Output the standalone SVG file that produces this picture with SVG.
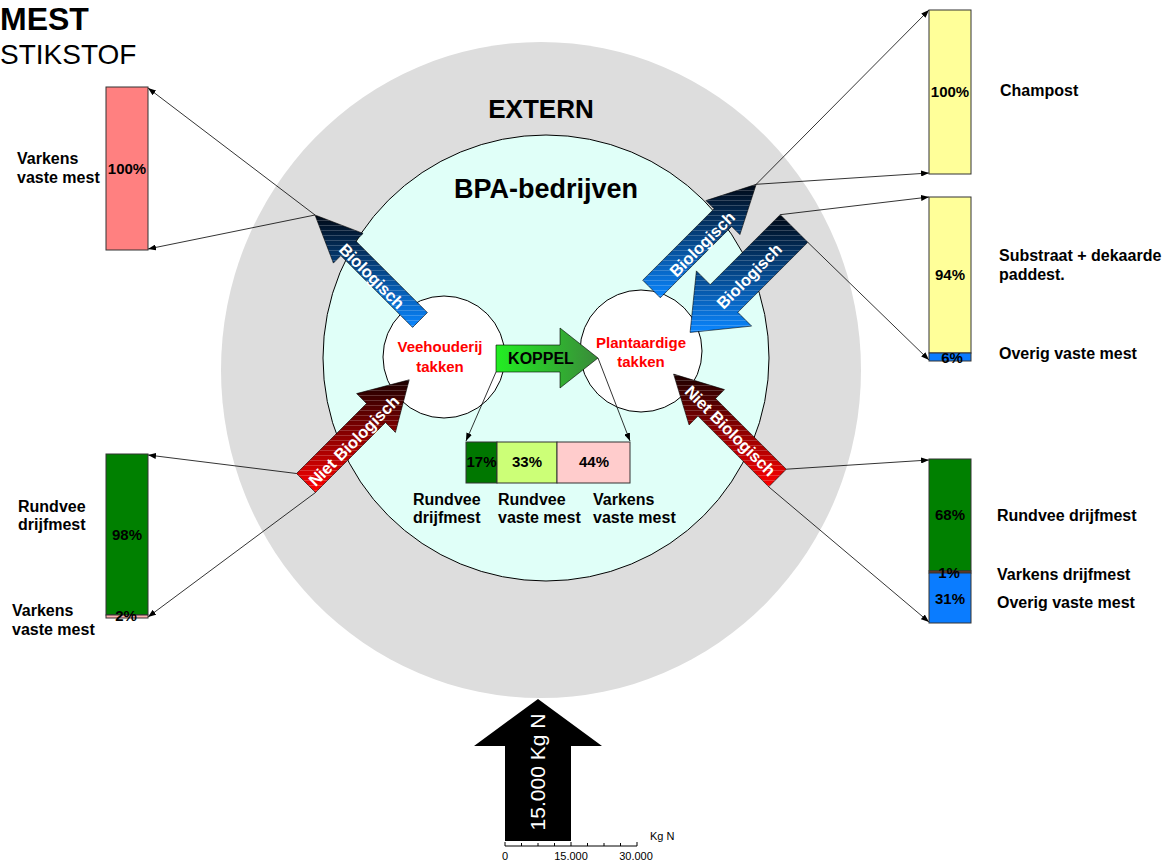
<svg xmlns="http://www.w3.org/2000/svg" width="1173" height="865" viewBox="0 0 1173 865">
<defs>
<style>
text{font-family:"Liberation Sans",Arial,sans-serif;}
.b{font-weight:bold;fill:#000;}
.lbl{font-weight:bold;font-size:16px;fill:#000;}
.pct{font-weight:bold;font-size:15px;fill:#000;text-anchor:middle;}
.red{font-weight:bold;font-size:15px;fill:#ff0000;text-anchor:middle;}
.aw{font-weight:bold;font-size:16.5px;fill:#fff;text-anchor:middle;}
.bar{stroke:#333;stroke-width:1;}
.con{stroke:#000;stroke-width:0.8;fill:none;marker-end:url(#ah);}
.arr{stroke:#000;stroke-width:0.6;}
.ax{font-size:11px;fill:#000;text-anchor:middle;}
</style>
<marker id="ah" markerWidth="8" markerHeight="6" refX="8" refY="3" orient="auto" markerUnits="userSpaceOnUse"><path d="M0,0 L8,3 L0,6 Z" fill="#000"/></marker>
<linearGradient id="gBlue" x1="0" y1="0" x2="0" y2="1"><stop offset="0" stop-color="#000814"/><stop offset="1" stop-color="#0a86ff"/></linearGradient>
<linearGradient id="gRed" x1="0" y1="0" x2="0" y2="1"><stop offset="0" stop-color="#1a0000"/><stop offset="1" stop-color="#ff0000"/></linearGradient>
<linearGradient id="gGreen" x1="0" y1="0" x2="1" y2="0"><stop offset="0" stop-color="#22ee22"/><stop offset="1" stop-color="#3a8a3a"/></linearGradient>
<pattern id="stripes" width="6" height="5" patternUnits="userSpaceOnUse"><rect x="0" y="0" width="6" height="0.7" fill="#fff" opacity="0.28"/></pattern>
</defs>

<rect width="1173" height="865" fill="#fff"/>

<g id="title">
<text class="b" x="0" y="29.5" font-size="32">MEST</text>
<text x="0" y="64" font-size="28" fill="#000">STIKSTOF</text>
</g>

<g id="extern">
<ellipse cx="541" cy="370" rx="320" ry="328" fill="#dddddd"/>
<text class="b" x="541" y="118" font-size="26" text-anchor="middle">EXTERN</text>
</g>

<g id="bpa">
<circle cx="546" cy="358" r="223" fill="#e0fff8" stroke="#000" stroke-width="1"/>
<text class="b" x="546" y="198" font-size="27" text-anchor="middle">BPA-bedrijven</text>
</g>

<g id="veehouderij">
<circle cx="444" cy="357" r="61" fill="#fff" stroke="#000" stroke-width="1"/>
<text class="red" x="440" y="352">Veehouderij</text>
<text class="red" x="440" y="372">takken</text>
</g>

<g id="plantaardig">
<circle cx="641" cy="351" r="61" fill="#fff" stroke="#000" stroke-width="1"/>
<text class="red" x="641" y="348">Plantaardige</text>
<text class="red" x="641" y="367">takken</text>
</g>

<g id="koppel">
<path class="arr" d="M496,345 L560,345 L560,328 L598,358 L560,388 L560,372 L496,372 Z" fill="url(#gGreen)"/>
<text class="b" x="541" y="364" font-size="16" text-anchor="middle">KOPPEL</text>
</g>

<g id="bio-links">
<path class="arr" d="M427.4,312.6 L355.6,240.8 L363.1,233.4 L315,215 L333.4,263.1 L340.8,255.6 L412.6,327.4 Z" fill="url(#gBlue)"/>
<path d="M427.4,312.6 L355.6,240.8 L363.1,233.4 L315,215 L333.4,263.1 L340.8,255.6 L412.6,327.4 Z" fill="url(#stripes)"/>
<text class="aw" transform="translate(372,276) rotate(45)" y="6">Biologisch</text>
</g>

<g id="nietbio-links">
<path class="arr" d="M315.5,492.5 L385.5,422.5 L395.4,432.4 L409.2,379.8 L356.6,393.6 L366.5,403.5 L296.5,473.5 Z" fill="url(#gRed)"/>
<path d="M315.5,492.5 L385.5,422.5 L395.4,432.4 L409.2,379.8 L356.6,393.6 L366.5,403.5 L296.5,473.5 Z" fill="url(#stripes)"/>
<text class="aw" font-size="15.5" transform="translate(354,441) rotate(-45)" y="5.5">Niet Biologisch</text>
</g>

<g id="bio-rechts-uit">
<path class="arr" d="M660.3,297.8 L731.7,226.4 L739.9,234.6 L756.2,184.3 L705.9,200.6 L714.1,208.8 L642.7,280.2 Z" fill="url(#gBlue)"/>
<path d="M660.3,297.8 L731.7,226.4 L739.9,234.6 L756.2,184.3 L705.9,200.6 L714.1,208.8 L642.7,280.2 Z" fill="url(#stripes)"/>
<text class="aw" transform="translate(702,244) rotate(-45)" y="6">Biologisch</text>
</g>

<g id="bio-rechts-in">
<path class="arr" d="M780.2,214.7 L710.2,284.7 L696.4,270.9 L690.1,332.4 L751.6,326.1 L737.8,312.3 L807.8,242.3 Z" fill="url(#gBlue)"/>
<path d="M780.2,214.7 L710.2,284.7 L696.4,270.9 L690.1,332.4 L751.6,326.1 L737.8,312.3 L807.8,242.3 Z" fill="url(#stripes)"/>
<text class="aw" font-size="17" transform="translate(749,276) rotate(-45)" y="6">Biologisch</text>
</g>

<g id="nietbio-rechts">
<path class="arr" d="M786.3,469.2 L715.6,398.5 L724.5,389.6 L673.6,374.1 L689.1,425 L698,416.1 L768.7,486.8 Z" fill="url(#gRed)"/>
<path d="M786.3,469.2 L715.6,398.5 L724.5,389.6 L673.6,374.1 L689.1,425 L698,416.1 L768.7,486.8 Z" fill="url(#stripes)"/>
<text class="aw" font-size="15.5" transform="translate(730,431) rotate(45)" y="5.5">Niet Biologisch</text>
</g>

<g id="connectors">
<line class="con" x1="315" y1="215" x2="148" y2="88"/>
<line class="con" x1="315" y1="215" x2="148" y2="249"/>
<line class="con" x1="296.5" y1="473.5" x2="148" y2="455"/>
<line class="con" x1="315.5" y1="492.5" x2="148" y2="617"/>
<line class="con" x1="496" y1="372" x2="466" y2="441"/>
<line class="con" x1="598" y1="358" x2="630" y2="441"/>
<line class="con" x1="756.2" y1="184.3" x2="929" y2="10"/>
<line class="con" x1="756.2" y1="184.3" x2="929" y2="173"/>
<line class="con" x1="780.2" y1="214.7" x2="929" y2="197"/>
<line class="con" x1="807.8" y1="242.3" x2="929" y2="360"/>
<line class="con" x1="786.3" y1="469.2" x2="929" y2="460"/>
<line class="con" x1="768.7" y1="486.8" x2="929" y2="622"/>
</g>

<g id="bar-links-boven">
<rect class="bar" x="106" y="87" width="42" height="163" fill="#ff8080"/>
<text class="pct" x="127" y="174" font-size="14">100%</text>
<text class="lbl" x="17" y="164">Varkens</text>
<text class="lbl" x="17" y="183">vaste mest</text>
</g>

<g id="bar-links-onder">
<rect class="bar" x="106" y="454" width="42" height="161" fill="#008000"/>
<rect class="bar" x="106" y="615" width="42" height="3" fill="#ffb0b0"/>
<text class="pct" x="127" y="540">98%</text>
<text class="pct" x="126" y="621">2%</text>
<text class="lbl" x="18" y="512">Rundvee</text>
<text class="lbl" x="18" y="530">drijfmest</text>
<text class="lbl" x="12" y="616">Varkens</text>
<text class="lbl" x="12" y="635">vaste mest</text>
</g>

<g id="bar-midden">
<rect class="bar" x="466" y="442" width="31" height="41" fill="#007700"/>
<rect class="bar" x="497" y="442" width="60" height="41" fill="#ccff77"/>
<rect class="bar" x="557" y="442" width="73" height="41" fill="#ffcccc"/>
<text class="pct" x="481.5" y="467" font-size="11">17%</text>
<text class="pct" x="527" y="467" font-size="11">33%</text>
<text class="pct" x="594" y="467" font-size="11">44%</text>
<text class="lbl" x="413" y="505">Rundvee</text>
<text class="lbl" x="413" y="523">drijfmest</text>
<text class="lbl" x="498" y="505">Rundvee</text>
<text class="lbl" x="498" y="523">vaste mest</text>
<text class="lbl" x="593" y="505">Varkens</text>
<text class="lbl" x="593" y="523">vaste mest</text>
</g>

<g id="bar-champost">
<rect class="bar" x="929" y="10" width="42" height="164" fill="#ffff99"/>
<text class="pct" x="950" y="97" font-size="14">100%</text>
<text class="lbl" x="1000" y="96">Champost</text>
</g>

<g id="bar-substraat">
<rect class="bar" x="929" y="197" width="42" height="156" fill="#ffff99"/>
<rect class="bar" x="929" y="353" width="42" height="8" fill="#0a7cff"/>
<text class="pct" x="950" y="280">94%</text>
<text class="pct" x="952" y="363">6%</text>
<text class="lbl" x="999" y="261">Substraat + dekaarde</text>
<text class="lbl" x="999" y="280"> paddest.</text>
<text class="lbl" x="999" y="359">Overig vaste mest</text>
</g>

<g id="bar-nietbio-rechts">
<rect class="bar" x="929" y="459" width="42" height="112" fill="#008000"/>
<rect class="bar" x="929" y="571" width="42" height="2" fill="#8b3a1a"/>
<rect class="bar" x="929" y="573" width="42" height="50" fill="#0a7cff"/>
<text class="pct" x="950" y="520" font-size="16">68%</text>
<text class="pct" x="949" y="578">1%</text>
<text class="pct" x="950" y="604" font-size="16">31%</text>
<text class="lbl" x="997" y="521">Rundvee drijfmest</text>
<text class="lbl" x="997" y="580">Varkens drijfmest</text>
<text class="lbl" x="997" y="608">Overig vaste mest</text>
</g>

<g id="schaal">
<path d="M538,699 L602,746 L571,746 L571,841 L505,841 L505,746 L474,746 Z" fill="#000"/>
<text transform="translate(545,772) rotate(-90)" font-size="21" fill="#fff" text-anchor="middle">15.000 Kg N</text>
<path d="M505,846 L637,846 M505,842 V846 M521.5,843 V846 M538,843 V846 M554.5,843 V846 M571,842 V846 M587.5,843 V846 M604,843 V846 M620.5,843 V846 M637,842 V846" stroke="#000" stroke-width="1" fill="none"/>
<text class="ax" x="505" y="860">0</text>
<text class="ax" x="571" y="860">15.000</text>
<text class="ax" x="636" y="860">30.000</text>
<text x="650" y="840" font-size="11" fill="#000">Kg N</text>
</g>
</svg>
